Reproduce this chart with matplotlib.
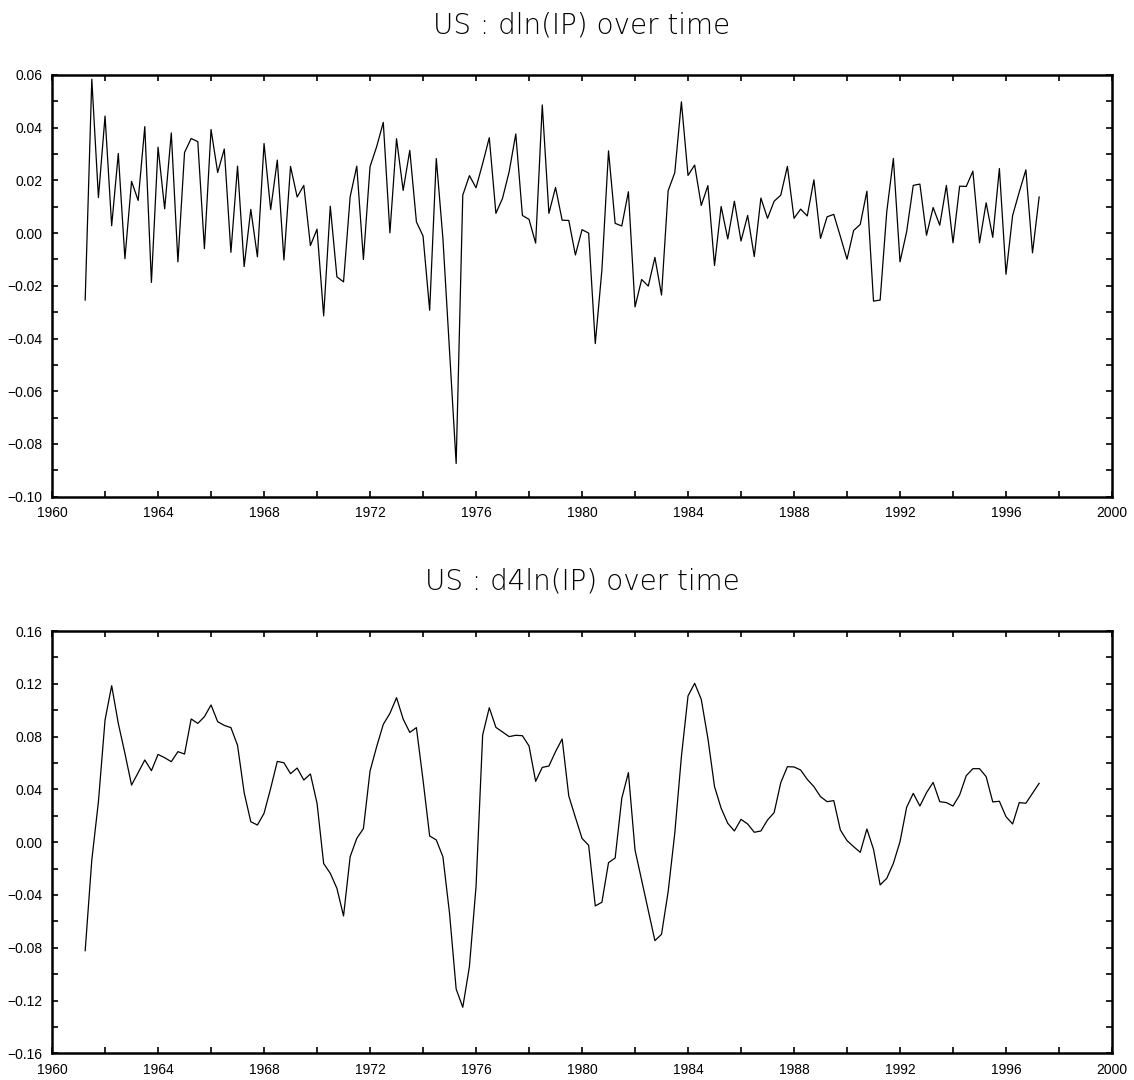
import numpy as np
import matplotlib
matplotlib.use("Agg")
import matplotlib.pyplot as plt
from matplotlib.ticker import MultipleLocator, FuncFormatter

# quarterly US industrial production growth, first obs 1961 (plotted at 1961.25)
start_year = 1961.25

# dln(IP) - quarter on quarter
dln = [-0.0254, 0.0584, 0.0135, 0.0444, 0.0028, 0.0302, -0.0097, 0.0196, 0.0124, 0.0404,
       -0.0187, 0.0326, 0.0092, 0.0380, -0.0109, 0.0306, 0.0359, 0.0347, -0.0059, 0.0393,
       0.0230, 0.0319, -0.0073, 0.0254, -0.0127, 0.0090, -0.0090, 0.0340, 0.0089, 0.0277,
       -0.0102, 0.0253, 0.0137, 0.0181, -0.0047, 0.0015, -0.0314, 0.0102, -0.0166, -0.0185,
       0.0138, 0.0254, -0.0100, 0.0252, 0.0328, 0.0420, 0.0001, 0.0358, 0.0162, 0.0314,
       0.0043, -0.0011, -0.0293, 0.0283, -0.0020, -0.0450, -0.0874, 0.0144, 0.0218, 0.0172,
       0.0264, 0.0362, 0.0075, 0.0132, 0.0233, 0.0376, 0.0067, 0.0052, -0.0038, 0.0486,
       0.0075, 0.0173, 0.0049, 0.0048, -0.0083, 0.0013, 0.0000, -0.0419, -0.0140, 0.0312,
       0.0037, 0.0027, 0.0157, -0.0280, -0.0176, -0.0201, -0.0092, -0.0235, 0.0161, 0.0229,
       0.0498, 0.0219, 0.0258, 0.0105, 0.0180, -0.0123, 0.0101, -0.0022, 0.0121, -0.0030,
       0.0067, -0.0089, 0.0133, 0.0056, 0.0121, 0.0144, 0.0253, 0.0056, 0.0091, 0.0065,
       0.0202, -0.0020, 0.0062, 0.0071, -0.0013, -0.0099, 0.0010, 0.0033, 0.0159, -0.0258,
       -0.0254, 0.0081, 0.0283, -0.0109, 0.0005, 0.0181, 0.0186, -0.0008, 0.0097, 0.0030,
       0.0181, -0.0037, 0.0178, 0.0177, 0.0235, -0.0037, 0.0115, -0.0016, 0.0245, -0.0156,
       0.0067, 0.0156, 0.0240, -0.0075, 0.0137]

# d4ln(IP) - year on year
d4ln = [-0.0822, -0.0135, 0.0307, 0.0926, 0.1186, 0.0900, 0.0673, 0.0433, 0.0527, 0.0623,
        0.0542, 0.0665, 0.0640, 0.0610, 0.0686, 0.0668, 0.0934, 0.0900, 0.0951, 0.1040,
        0.0913, 0.0885, 0.0868, 0.0734, 0.0375, 0.0155, 0.0130, 0.0219, 0.0408, 0.0612,
        0.0602, 0.0519, 0.0562, 0.0471, 0.0517, 0.0295, -0.0162, -0.0236, -0.0350, -0.0559,
        -0.0110, 0.0029, 0.0103, 0.0539, 0.0724, 0.0893, 0.0976, 0.1095, 0.0933, 0.0832,
        0.0868, 0.0471, 0.0047, 0.0017, -0.0110, -0.0539, -0.1113, -0.1251, -0.0943, -0.0337,
        0.0812, 0.1019, 0.0870, 0.0835, 0.0800, 0.0810, 0.0807, 0.0729, 0.0461, 0.0567,
        0.0577, 0.0686, 0.0782, 0.0350, 0.0188, 0.0029, -0.0024, -0.0483, -0.0455, -0.0155,
        -0.0120, 0.0332, 0.0527, -0.0059, -0.0287, -0.0514, -0.0746, -0.0698, -0.0375, 0.0067,
        0.0648, 0.1108, 0.1204, 0.1082, 0.0787, 0.0421, 0.0257, 0.0143, 0.0085, 0.0173,
        0.0138, 0.0075, 0.0085, 0.0168, 0.0224, 0.0451, 0.0572, 0.0570, 0.0547, 0.0476,
        0.0421, 0.0345, 0.0307, 0.0315, 0.0092, 0.0012, -0.0034, -0.0077, 0.0100, -0.0054,
        -0.0324, -0.0274, -0.0160, 0.0004, 0.0264, 0.0370, 0.0274, 0.0375, 0.0453, 0.0307,
        0.0300, 0.0274, 0.0358, 0.0504, 0.0557, 0.0557, 0.0497, 0.0305, 0.0310, 0.0193,
        0.0138, 0.0300, 0.0295, 0.0370, 0.0446]

titles = ["US : dln(IP) over time", "US : d4ln(IP) over time"]
ylims = [(-0.10, 0.06), (-0.16, 0.16)]
ysteps = [0.02, 0.04]

dates = start_year + 0.25 * np.arange(len(dln))


def yfmt(v, pos):
    # 2 decimals, proper minus sign, no "-0.00"
    if abs(v) < 1e-9:
        v = 0.0
    return f"{v:.2f}".replace("-", "\u2212")


fig = plt.figure(figsize=(11.34, 10.8), dpi=100)
ax1 = fig.add_axes([0.0459, 0.5401, 0.9347, 0.3905])
ax2 = fig.add_axes([0.0459, 0.0247, 0.9347, 0.3910])

for ax, series, title, ylim, step in zip([ax1, ax2], [dln, d4ln], titles, ylims, ysteps):
    ax.plot(dates, series, color="black", linewidth=0.9)
    ax.set_xlim(1960, 2000)
    ax.set_ylim(*ylim)
    ax.xaxis.set_major_locator(MultipleLocator(4))
    ax.xaxis.set_minor_locator(MultipleLocator(2))
    ax.yaxis.set_major_locator(MultipleLocator(step))
    ax.yaxis.set_minor_locator(MultipleLocator(step / 2))
    ax.yaxis.set_major_formatter(FuncFormatter(yfmt))
    # ticks point inward on all four sides, like the old GAUSS plots
    ax.tick_params(which="both", direction="in", top=True, right=True,
                   length=4, width=1.2, labelsize=10)
    ax.tick_params(axis="x", pad=7)
    ax.tick_params(axis="y", pad=7)
    for lab in ax.get_xticklabels() + ax.get_yticklabels():
        lab.set_fontfamily("Liberation Sans")
    # nudge the end year labels so they do not run into the y labels
    xl = ax.get_xticklabels()
    xl[0].set_horizontalalignment("left")
    xl[-1].set_horizontalalignment("right")
    for sp in ax.spines.values():
        sp.set_linewidth(1.8)
    ax.set_title(title, fontsize=20, family="DejaVu Sans", fontweight=200,
                 color="black", pad=30)

fig.savefig("out.png", dpi=100)
